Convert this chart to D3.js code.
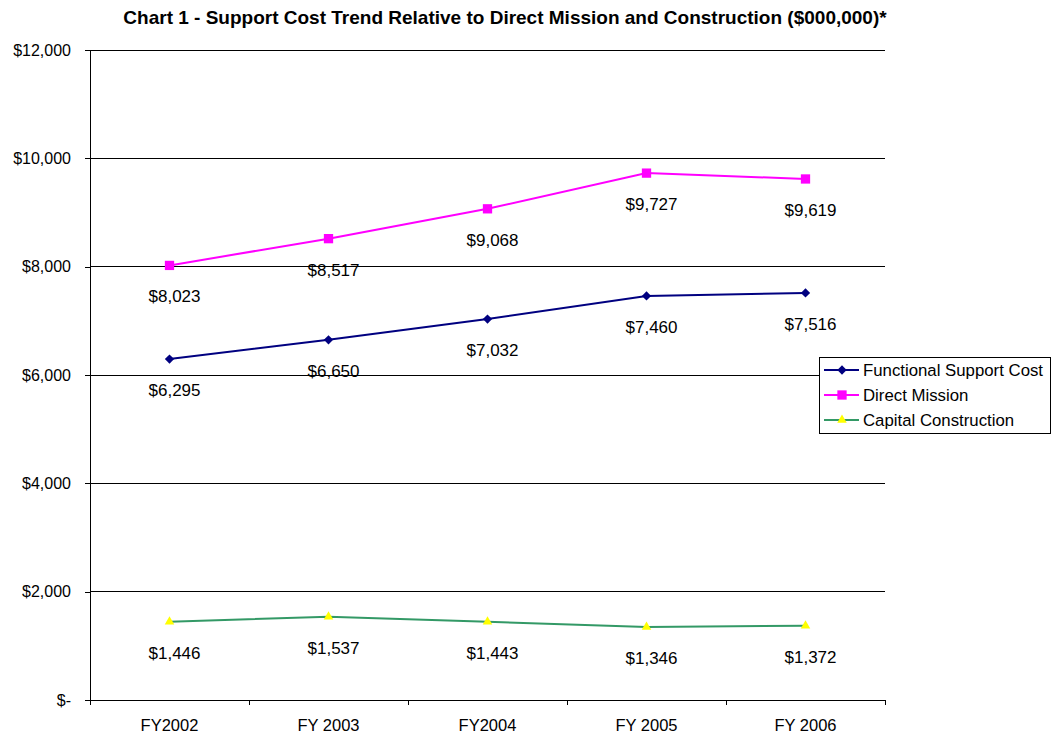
<!DOCTYPE html>
<html>
<head>
<meta charset="utf-8">
<script src="https://cdn.jsdelivr.net/npm/d3@7"></script>
<style>
  html, body { margin: 0; padding: 0; background: #fff; }
  svg text { font-family: "Liberation Sans", Arial, sans-serif; }
</style>
</head>
<body>
<svg id="chart" width="1051" height="736"></svg>
<script>
// Fiscal years along the category axis
const categories = ["FY2002", "FY 2003", "FY2004", "FY 2005", "FY 2006"];

// Series values ($000,000)
const functionalSupport = [6295, 6650, 7032, 7460, 7516];
const directMission = [8023, 8517, 9068, 9727, 9619];
const capitalConstruction = [1446, 1537, 1443, 1346, 1372];

// Value axis ticks
const yTicks = [0, 2000, 4000, 6000, 8000, 10000, 12000];

const seriesList = [
  { name: "Functional Support Cost", values: functionalSupport, line: "#000080", fill: "#000080", shape: d3.symbolDiamond2, size: 55 },
  { name: "Direct Mission", values: directMission, line: "#FF00FF", fill: "#FF00FF", shape: d3.symbolSquare2, size: 110 },
  { name: "Capital Construction", values: capitalConstruction, line: "#339966", fill: "#FFFF00", shape: d3.symbolTriangle2, size: 65 }
];

const svg = d3.select("#chart");
const margin = { left: 90, right: 166, top: 50, bottom: 36 };
const W = 1051, H = 736;

const x = d3.scaleBand().domain(categories).range([margin.left, W - margin.right]);
const y = d3.scaleLinear().domain([0, 12000]).range([H - margin.bottom, margin.top]);

const fmt = v => v === 0 ? "$-" : "$" + d3.format(",")(v);

// Title
svg.append("text")
  .attr("x", 505).attr("y", 24)
  .attr("text-anchor", "middle")
  .attr("font-size", 19).attr("font-weight", "bold")
  .text("Chart 1 - Support Cost Trend Relative to Direct Mission and Construction ($000,000)*");

// Horizontal gridlines
svg.append("g")
  .selectAll("line")
  .data(yTicks.filter(t => t > 0))
  .join("line")
  .attr("x1", margin.left).attr("x2", W - margin.right)
  .attr("y1", d => y(d)).attr("y2", d => y(d))
  .attr("stroke", "#000").attr("stroke-width", 1).attr("shape-rendering", "crispEdges");

// Value axis
const yAxis = svg.append("g")
  .attr("transform", `translate(${margin.left},0)`)
  .call(d3.axisLeft(y).tickValues(yTicks).tickFormat(fmt).tickSize(5).tickPadding(14));
yAxis.selectAll("text").attr("font-size", 16).attr("fill", "#000");
yAxis.selectAll("line, path").attr("stroke", "#000").attr("shape-rendering", "crispEdges");
yAxis.select(".domain").attr("d", `M0,${y(0)}V${y(12000)}`);

// Category axis with tick marks between categories
const xAxisG = svg.append("g").attr("transform", `translate(0,${y(0)})`);
xAxisG.append("line")
  .attr("x1", margin.left).attr("x2", W - margin.right)
  .attr("stroke", "#000").attr("shape-rendering", "crispEdges");
const edges = categories.map(c => x(c)).concat([x(categories[categories.length - 1]) + x.bandwidth()]);
xAxisG.selectAll("line.tick")
  .data(edges)
  .join("line").attr("class", "tick")
  .attr("x1", d => d).attr("x2", d => d)
  .attr("y1", 0).attr("y2", 5)
  .attr("stroke", "#000").attr("shape-rendering", "crispEdges");
xAxisG.selectAll("text")
  .data(categories)
  .join("text")
  .attr("x", d => x(d) + x.bandwidth() / 2)
  .attr("y", 31)
  .attr("text-anchor", "middle")
  .attr("font-size", 16.5)
  .text(d => d);

const cx = i => x(categories[i]) + x.bandwidth() / 2;

// Series lines, markers, and value labels
seriesList.forEach(s => {
  const g = svg.append("g");
  g.append("path")
    .datum(s.values)
    .attr("fill", "none")
    .attr("stroke", s.line)
    .attr("stroke-width", 2)
    .attr("d", d3.line().x((d, i) => cx(i)).y(d => y(d)));
  g.selectAll("path.marker")
    .data(s.values)
    .join("path").attr("class", "marker")
    .attr("transform", (d, i) => `translate(${cx(i)},${y(d)})`)
    .attr("d", d3.symbol().type(s.shape).size(s.size))
    .attr("fill", s.fill);
  g.selectAll("text")
    .data(s.values)
    .join("text")
    .attr("x", (d, i) => cx(i) + 5)
    .attr("y", d => y(d) + 37)
    .attr("text-anchor", "middle")
    .attr("font-size", 17)
    .text(d => fmt(d));
});

// Legend
const lg = svg.append("g").attr("transform", "translate(819,357)");
lg.append("rect")
  .attr("x", 0.5).attr("y", 0.5).attr("width", 231).attr("height", 76)
  .attr("fill", "#fff").attr("stroke", "#000");
seriesList.forEach((s, i) => {
  const ry = 13 + i * 25;
  lg.append("line")
    .attr("x1", 5).attr("x2", 40).attr("y1", ry).attr("y2", ry)
    .attr("stroke", s.line).attr("stroke-width", 2);
  lg.append("path")
    .attr("transform", `translate(23,${ry})`)
    .attr("d", d3.symbol().type(s.shape).size(s.size))
    .attr("fill", s.fill);
  lg.append("text")
    .attr("x", 44).attr("y", ry + 6)
    .attr("font-size", 16.8)
    .text(s.name);
});
</script>
</body>
</html>
